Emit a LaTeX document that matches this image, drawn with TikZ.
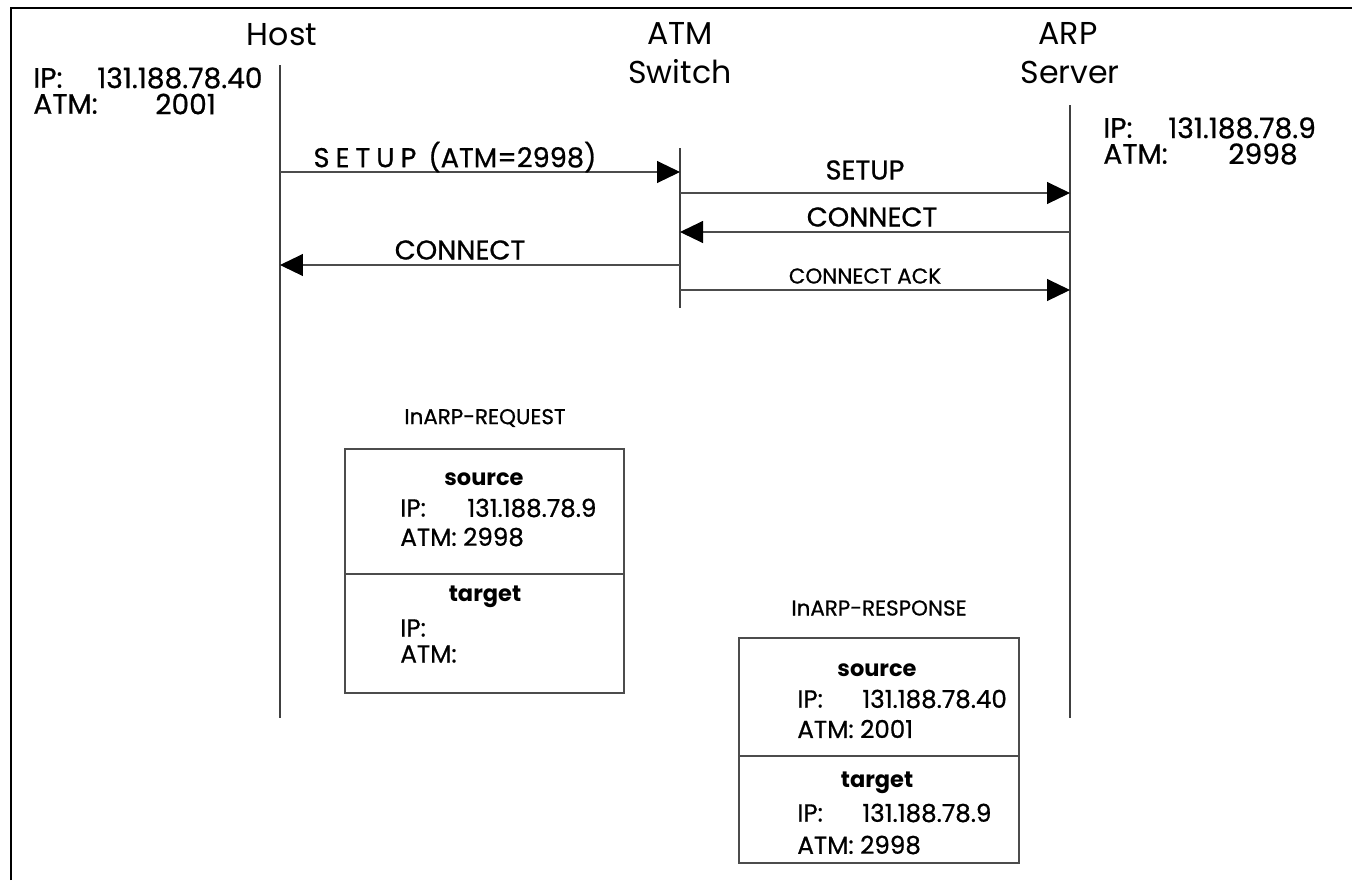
\documentclass[tikz,border=0pt]{standalone}
\usepackage{fontspec}
\setmainfont{Poppins}
\newfontfamily\medfont[FakeBold=0.7]{Poppins}
\usetikzlibrary{arrows.meta}
\newcommand{\gp}{\kern0.22em}
\begin{document}
\begin{tikzpicture}[x=0.02cm,y=-0.02cm,
  life/.style={draw=black!75,line width=0.6pt},
  msg/.style={draw=black!70,line width=0.6pt,-{Triangle[length=4.6mm,width=4.4mm,black]}},
  head/.style={font=\fontsize{18}{20}\selectfont,inner sep=0pt},
  info/.style={font=\medfont\fontsize{16}{18}\selectfont,inner sep=0pt,anchor=west},
  lbl/.style={font=\medfont\fontsize{15.5}{17}\selectfont,inner sep=0pt},
  small/.style={font=\medfont\fontsize{12.2}{14}\selectfont,inner sep=0pt},
  boxtxt/.style={font=\medfont\fontsize{14}{16}\selectfont,inner sep=0pt,anchor=west},
  boxhd/.style={font=\fontsize{12.8}{14}\selectfont\bfseries,inner sep=0pt},
  pkt/.style={draw=black!70,line width=0.6pt}]
\useasboundingbox (0,0) rectangle (1352,880);
% frame
\draw[line width=1pt] (11,880) -- (11,8) -- (1352,8);
% headers
\node[head] (hhost) at (282,35) {Host};
\node[head] (hatm1) at (680,33) {ATM};
\node[head] (hatm2) at (680,72) {Switch};
\node[head] (harp1) at (1068,33) {ARP};
\node[head] (harp2) at (1070,72) {Server};
% lifelines
\coordinate (ht) at (280,65);  \coordinate (hb) at (280,718);
\coordinate (st) at (680,148); \coordinate (sb) at (680,308);
\coordinate (at) at (1070,105); \coordinate (ab) at (1070,718);
\draw[life] (ht) -- (hb);
\draw[life] (st) -- (sb);
\draw[life] (at) -- (ab);
% host info
\node[info] (hip) at (33,78) {IP:};
\node[info] (hipv) at (97,78) {131.188.78.40};
\node[info] (hatm) at (33,104) {ATM:};
\node[info] (hatmv) at (155,104) {2001};
% server info
\node[info] (sip) at (1103,128) {IP:};
\node[info] (sipv) at (1168,128) {131.188.78.9};
\node[info] (satm) at (1103,154) {ATM:};
\node[info] (satmv) at (1228,154) {2998};
% messages
\coordinate (m1a) at (280,172); \coordinate (m1b) at (680,172);
\coordinate (m2a) at (680,193); \coordinate (m2b) at (1070,193);
\coordinate (m3a) at (1070,232); \coordinate (m3b) at (680,232);
\coordinate (m4a) at (680,265); \coordinate (m4b) at (280,265);
\coordinate (m5a) at (680,290); \coordinate (m5b) at (1070,290);
\draw[msg] (m1a) -- (m1b);
\draw[msg] (m2a) -- (m2b);
\draw[msg] (m3a) -- (m3b);
\draw[msg] (m4a) -- (m4b);
\draw[msg] (m5a) -- (m5b);
\node[lbl] (l1) at (455,157) {S\gp E\gp T\gp U\gp P\gp\gp (ATM=2998)};
\node[lbl] (l2) at (865,170) {SETUP};
\node[lbl] (l3) at (872,217) {CONNECT};
\node[lbl] (l4) at (460,250) {CONNECT};
\node[small] (l5) at (865,276) {CONNECT ACK};
% InARP request
\node[small] (rqt) at (485,418) {InARP-REQUEST};
\draw[pkt] (345,449) rectangle (624,693);
\draw[pkt] (345,574) -- (624,574);
\node[boxhd] (rqs) at (484,479) {source};
\node[boxtxt] (rqsip) at (400,508) {IP:};
\node[boxtxt] (rqsipv) at (467,508) {131.188.78.9};
\node[boxtxt] (rqsatm) at (400,537) {ATM: 2998};
\node[boxhd] (rqtg) at (485,597) {target};
\node[boxtxt] (rqtip) at (400,628) {IP:};
\node[boxtxt] (rqtatm) at (400,654) {ATM:};
% InARP response
\node[small] (rst) at (879,608) {InARP-RESPONSE};
\draw[pkt] (739,638) rectangle (1019,863);
\draw[pkt] (739,756) -- (1019,756);
\node[boxhd] (rss) at (877,670) {source};
\node[boxtxt] (rssip) at (797,699) {IP:};
\node[boxtxt] (rssipv) at (862,699) {131.188.78.40};
\node[boxtxt] (rssatm) at (797,729) {ATM: 2001};
\node[boxhd] (rstg) at (877,783) {target};
\node[boxtxt] (rstip) at (797,813) {IP:};
\node[boxtxt] (rstipv) at (862,813) {131.188.78.9};
\node[boxtxt] (rstatm) at (797,845) {ATM: 2998};
\end{tikzpicture}
\end{document}
